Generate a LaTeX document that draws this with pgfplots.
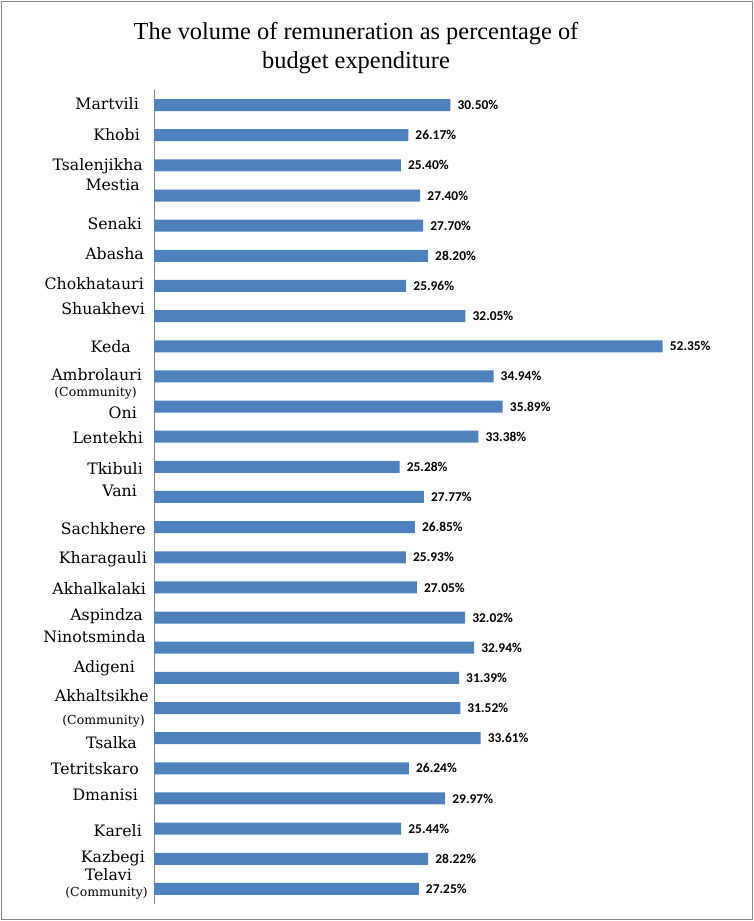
\documentclass[border=0pt]{standalone}
\usepackage{fontspec}
\setmainfont{Liberation Serif}
\newfontfamily\lab{DejaVu Serif}
\newfontfamily\val{Carlito}
\usepackage{pgfplots}
\pgfplotsset{compat=1.18}
\definecolor{barblue}{HTML}{4F81BD}
\definecolor{bordergray}{HTML}{868686}
\newcommand{\lbl}[3]{\node[anchor=base east,inner sep=0pt,font=\lab\fontsize{15.8}{18}\selectfont] at (#1bp,{(921-#2)*1bp}) {#3};}
\newcommand{\clbl}[3]{\node[anchor=base east,inner sep=0pt,font=\lab\fontsize{12.5}{14}\selectfont] at (#1bp,{(921-#2)*1bp}) {#3};}
\begin{document}
\begin{tikzpicture}
\useasboundingbox (0,0) rectangle (754bp,921bp);
\draw[bordergray,line width=1.5bp] (1.5bp,1.5bp) rectangle (752.5bp,919.5bp);
\node[anchor=base,inner sep=0pt,font=\fontsize{24.5}{28}\selectfont] at (356bp,881.7bp) {The volume of remuneration as percentage of};
\node[anchor=base,inner sep=0pt,font=\fontsize{24.5}{28}\selectfont] at (356bp,852.7bp) {budget expenditure};
\begin{axis}[
  at={(154bp,17bp)}, anchor=south west,
  scale only axis, width=583bp, height=814bp,
  xmin=0, xmax=60, ymin=-0.5, ymax=26.5,
  xbar, bar width=12bp,
  axis x line=none, axis y line=left,
  y axis line style={-, draw=bordergray, line width=0.8bp},
  ytick=\empty, xtick=\empty,
  clip=false,
  point meta=x,
  nodes near coords={\pgfmathprintnumber[fixed,fixed zerofill,precision=2,assume math mode=true]{\pgfplotspointmeta}\%},
  every node near coord/.append style={anchor=west, inner sep=0pt, xshift=7bp, text=black, font=\val\bfseries\fontsize{13.5}{15}\selectfont},
]
\addplot[fill=barblue, draw=none] coordinates {
(30.50,26) (26.17,25) (25.40,24) (27.40,23) (27.70,22) (28.20,21) (25.96,20)
(32.05,19) (52.35,18) (34.94,17) (35.89,16) (33.38,15) (25.28,14) (27.77,13)
(26.85,12) (25.93,11) (27.05,10) (32.02,9) (32.94,8) (31.39,7) (31.52,6)
(33.61,5) (26.24,4) (29.97,3) (25.44,2) (28.22,1) (27.25,0)
};
\end{axis}
\lbl{139}{110}{Martvili}
\lbl{140}{141}{Khobi}
\lbl{143}{170.7}{Tsalenjikha}
\lbl{140}{191}{Mestia}
\lbl{142}{230}{Senaki}
\lbl{144}{260}{Abasha}
\lbl{144}{290}{Chokhatauri}
\lbl{145}{314.3}{Shuakhevi}
\lbl{131}{352.7}{Keda}
\lbl{142}{380.7}{Ambrolauri}
\clbl{137}{396.7}{(Community)}
\lbl{137}{419}{Oni}
\lbl{143}{444}{Lentekhi}
\lbl{143}{475}{Tkibuli}
\lbl{137}{496.7}{Vani}
\lbl{146}{534}{Sachkhere}
\lbl{147}{563.3}{Kharagauli}
\lbl{146}{594.3}{Akhalkalaki}
\lbl{143}{620}{Aspindza}
\lbl{146}{642.7}{Ninotsminda}
\lbl{135}{672.7}{Adigeni}
\lbl{149}{701.7}{Akhaltsikhe}
\clbl{145}{724}{(Community)}
\lbl{137}{748.3}{Tsalka}
\lbl{139}{774}{Tetritskaro}
\lbl{138}{800}{Dmanisi}
\lbl{142}{836}{Kareli}
\lbl{145}{862.3}{Kazbegi}
\lbl{132}{880}{Telavi}
\clbl{148}{896.7}{(Community)}
\end{tikzpicture}
\end{document}
